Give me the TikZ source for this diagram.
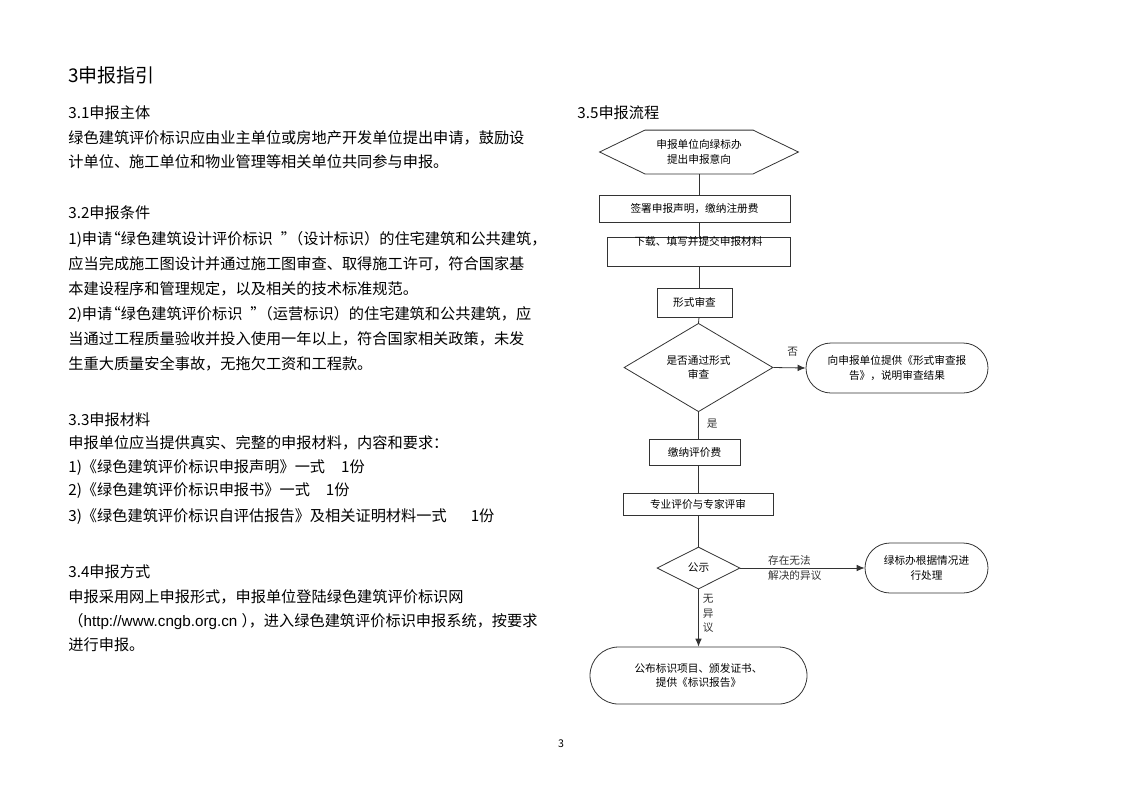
\documentclass[tikz,border=0pt]{standalone}
\usepackage{fontspec}
\setmainfont{Noto Sans CJK SC}
\newfontfamily\latinfont{Liberation Sans}
\usepackage{tikz}
\usetikzlibrary{arrows.meta,shapes.geometric,shapes.misc}
\definecolor{frame}{HTML}{333333}
\tikzset{%
    >={Latex[length=6pt,width=5pt]}
}

\begin{document}
\begin{tikzpicture}[x=0.75pt, y=-0.75pt, line width=0.6pt,
  txt/.style={anchor=west, inner sep=0pt, font=\fontsize{11.4}{14}\selectfont},
  flow/.style={font=\fontsize{8}{11}\selectfont, align=center, inner sep=0pt},
  box/.style={flow, draw=frame},
  endbox/.style={flow, draw=frame, rounded rectangle},
  check/.style={flow, draw=frame, diamond}]
  \useasboundingbox (0,0) rectangle (1123,794);

  % left column
  \node[txt, font=\fontsize{14.2}{17}\selectfont] (title) at (68,75) {3申报指引};

  \node[txt] (h31) at (68,113) {3.1申报主体};
  \node[txt] (t311) at (68,138) {绿色建筑评价标识应由业主单位或房地产开发单位提出申请，鼓励设};
  \node[txt] (t312) at (68,162) {计单位、施工单位和物业管理等相关单位共同参与申报。};

  \node[txt] (h32) at (68,213) {3.2申报条件};
  \node[txt] (t321) at (68,239) {1)申请\hspace{-5pt}“绿色建筑设计评价标识\hspace{6pt}”\hspace{-6pt}（设计标识）的住宅建筑和公共建筑，};
  \node[txt] (t322) at (68,264) {应当完成施工图设计并通过施工图审查、取得施工许可，符合国家基};
  \node[txt] (t323) at (68,289) {本建设程序和管理规定，以及相关的技术标准规范。};
  \node[txt] (t324) at (68,314) {2)申请\hspace{-5pt}“绿色建筑评价标识\hspace{6pt}”\hspace{-6pt}（运营标识）的住宅建筑和公共建筑，应};
  \node[txt] (t325) at (68,339) {当通过工程质量验收并投入使用一年以上，符合国家相关政策，未发};
  \node[txt] (t326) at (68,364) {生重大质量安全事故，无拖欠工资和工程款。};

  \node[txt] (h33) at (68,420) {3.3申报材料};
  \node[txt] (t331) at (68,443) {申报单位应当提供真实、完整的申报材料，内容和要求：};
  \node[txt] (t332) at (68,468) {1)《绿色建筑评价标识申报声明》一式\hspace{12pt}1份};
  \node[txt] (t333) at (68,491) {2)《绿色建筑评价标识申报书》一式\hspace{12pt}1份};
  \node[txt] (t334) at (68,517) {3)《绿色建筑评价标识自评估报告》及相关证明材料一式\hspace{18pt}1份};

  \node[txt] (h34) at (68,572) {3.4申报方式};
  \node[txt] (t341) at (68,597) {申报采用网上申报形式，申报单位登陆绿色建筑评价标识网};
  \node[txt] (t342) at (68,622) {（{\latinfont http://www.cngb.org.cn }）\hspace{-6pt}，进入绿色建筑评价标识申报系统，按要求};
  \node[txt] (t343) at (68,645) {进行申报。};

  \node[font=\fontsize{8}{10}\selectfont] (page) at (561,744) {3};

  % flow chart
  \node[txt] (h35) at (577,113) {3.5申报流程};

  \node[flow, minimum width=148.5pt, minimum height=32.25pt] (apply) at (699,152) {申报单位向绿标办\\提出申报意向};
  \draw[frame] (apply.west) -- ([xshift=34pt]apply.north west) -- ([xshift=-34pt]apply.north east)
    -- (apply.east) -- ([xshift=-34pt]apply.south east) -- ([xshift=34pt]apply.south west) -- cycle;

  \node[box, minimum width=143.25pt, minimum height=20.25pt] (sign) at (694.5,208.5) {签署申报声明，缴纳注册费};
  \node[box, minimum width=137.25pt, minimum height=21.75pt,
    label={[flow, anchor=center, yshift=-3.5pt]north:下载、填写并提交申报材料}] (download) at (698.5,251.5) {};
  \node[box, minimum width=56.25pt, minimum height=21.75pt] (formal) at (694.5,302.5) {形式审查};
  \node[check, minimum width=111.75pt, minimum height=53.25pt] (pass) at (698.5,367.5) {是否通过形式\\审查};
  \node[endbox, minimum width=136.5pt, minimum height=37.5pt] (reject) at (897,368) {向申报单位提供《形式审查报\\告》，说明审查结果};
  \node[box, minimum width=68.25pt, minimum height=19.5pt] (fee) at (694.5,452) {缴纳评价费};
  \node[box, minimum width=112.5pt, minimum height=16.5pt] (expert) at (698,504) {专业评价与专家评审};
  \node[check, minimum width=62.25pt, minimum height=31.5pt] (notice) at (698.5,568) {公示};
  \node[endbox, minimum width=92.25pt, minimum height=37.5pt] (handle) at (926.5,568) {绿标办根据情况进\\行处理};
  \node[endbox, minimum width=162.75pt, minimum height=42.75pt] (publish) at (698.5,675.5) {公布标识项目、颁发证书、\\提供《标识报告》};

  \draw[frame] (apply.south) -- (apply.south |- sign.north);
  \draw[frame] (apply.south |- sign.south) -- (apply.south |- download.north);
  \draw[frame] (apply.south |- download.south) -- (apply.south |- formal.north);
  \draw[frame] (apply.south |- formal.south) -- (pass.north);
  \draw[frame, ->] (pass.east) -- (reject.west) node[flow, pos=0.6, above=8pt] (no) {否};
  \draw[frame] (pass.south) -- (pass.south |- fee.north) node[flow, pos=0.45, right=6pt] (yes) {是};
  \draw[frame] (pass.south |- fee.south) -- (pass.south |- expert.north);
  \draw[frame] (pass.south |- expert.south) -- (notice.north);
  \draw[frame, ->] (notice.east) -- (handle.west) node[flow, pos=0.22, anchor=west, align=left] (dispute) {存在无法\\解决的异议};
  \draw[frame, ->] (notice.south) -- (notice.south |- publish.north) node[flow, pos=0.42, right=3pt] (agree) {无\\异\\议};
\end{tikzpicture}
\end{document}
